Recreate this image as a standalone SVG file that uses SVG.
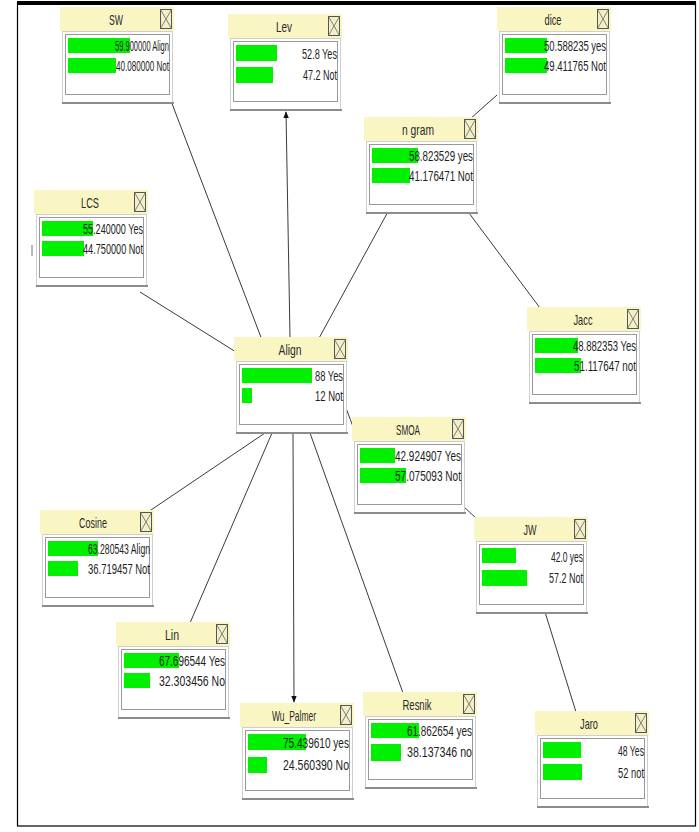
<svg xmlns="http://www.w3.org/2000/svg" xmlns:xlink="http://www.w3.org/1999/xlink" width="699" height="832" viewBox="0 0 699 832">
  <style>
    .hdr { fill: #faf6c4; }
    .xb { fill: #f3f0c8; stroke: #555; stroke-width: 1; }
    .xl { stroke: #666; stroke-width: 0.8; fill: none; }
    .panel { fill: #ffffff; stroke: #cfcfcf; stroke-width: 1; }
    .inner { fill: #ffffff; stroke: #999; stroke-width: 1; }
    .shadow { fill: #8c8c8c; }
    .bar { fill: #00f000; }
    .ttl { font-family: "Liberation Sans", Arial, sans-serif; font-size: 15px; fill: #2a2a2a; text-anchor: middle; }
    .val { font-family: "Liberation Sans", Arial, sans-serif; font-size: 14px; fill: #1e1e1e; text-anchor: end; }
    .edge { stroke: #3a3a3a; stroke-width: 1; fill: none; }
  </style>
  <defs>
    <!-- common node chrome: yellow title bar, close box, white panel -->
    <g id="chrome">
      <rect class="panel" x="2.5" y="24.5" width="110" height="71"/>
      <rect class="shadow" x="2" y="95" width="112" height="2"/>
      <rect class="inner" x="5.5" y="27.5" width="104" height="60"/>
      <rect class="hdr" x="0" y="0" width="114" height="24"/>
      <rect class="xb" x="100.5" y="2.5" width="11" height="19"/>
      <path class="xl" d="M100.5,2.5 L111.5,21.5 M111.5,2.5 L100.5,21.5"/>
    </g>
    <marker id="arrow" viewBox="0 0 10 10" refX="9" refY="5" markerWidth="7" markerHeight="7" orient="auto">
      <path d="M0,1 L10,5 L0,9 Z" fill="#111"/>
    </marker>
  </defs>

  <rect x="0" y="0" width="699" height="832" fill="#ffffff"/>
  <!-- outer frame -->
  <rect x="17.5" y="3" width="678" height="823" fill="none" stroke="#000" stroke-width="1.2"/>
  <rect x="17" y="1" width="679" height="4" fill="#000"/>

  <g id="connectors">
    <line class="edge" x1="262" y1="340" x2="160" y2="72"/>
    <line class="edge" x1="290" y1="337" x2="286" y2="112" marker-end="url(#arrow)"/>
    <line class="edge" x1="318" y1="340" x2="390" y2="208"/>
    <line class="edge" x1="236" y1="352" x2="140" y2="292"/>
    <line class="edge" x1="470" y1="119" x2="497" y2="95"/>
    <line class="edge" x1="463" y1="205" x2="540" y2="308"/>
    <line class="edge" x1="346" y1="408" x2="358" y2="440"/>
    <line class="edge" x1="462" y1="505" x2="478" y2="520"/>
    <line class="edge" x1="545" y1="612" x2="576" y2="712"/>
    <line class="edge" x1="265" y1="433" x2="148" y2="512"/>
    <line class="edge" x1="272" y1="433" x2="190" y2="623"/>
    <line class="edge" x1="293" y1="433" x2="294" y2="702" marker-end="url(#arrow)"/>
    <line class="edge" x1="310" y1="433" x2="403" y2="693"/>
  </g>

  <g id="node-sw" transform="translate(60,7)">
    <use xlink:href="#chrome"/>
    <text class="ttl" x="56" y="18" textLength="14" lengthAdjust="spacingAndGlyphs">SW</text>
    <rect class="bar" x="8" y="31" width="62" height="15"/>
    <rect class="bar" x="8" y="51" width="48" height="15"/>
    <text class="val" x="109" y="44" textLength="54" lengthAdjust="spacingAndGlyphs">59.900000 Align</text>
    <text class="val" x="109" y="64" textLength="53" lengthAdjust="spacingAndGlyphs">40.080000 Not</text>
  </g>

  <g id="node-lev" transform="translate(228,14)">
    <use xlink:href="#chrome"/>
    <text class="ttl" x="56" y="18" textLength="16" lengthAdjust="spacingAndGlyphs">Lev</text>
    <rect class="bar" x="8" y="31" width="41" height="16"/>
    <rect class="bar" x="8" y="53" width="37" height="16"/>
    <text class="val" x="109" y="45" textLength="35" lengthAdjust="spacingAndGlyphs">52.8 Yes</text>
    <text class="val" x="109" y="66" textLength="34" lengthAdjust="spacingAndGlyphs">47.2 Not</text>
  </g>

  <g id="node-dice" transform="translate(497,7)">
    <use xlink:href="#chrome"/>
    <text class="ttl" x="56" y="18" textLength="17" lengthAdjust="spacingAndGlyphs">dice</text>
    <rect class="bar" x="8" y="31" width="42" height="15"/>
    <rect class="bar" x="8" y="51" width="42" height="15"/>
    <text class="val" x="109" y="44" textLength="62" lengthAdjust="spacingAndGlyphs">50.588235 yes</text>
    <text class="val" x="109" y="64" textLength="62" lengthAdjust="spacingAndGlyphs">49.411765 Not</text>
  </g>

  <g id="node-ngram" transform="translate(364,117)">
    <use xlink:href="#chrome"/>
    <text class="ttl" x="54" y="18" textLength="32" lengthAdjust="spacingAndGlyphs">n gram</text>
    <rect class="bar" x="8" y="31" width="46" height="15"/>
    <rect class="bar" x="8" y="51" width="38" height="15"/>
    <text class="val" x="109" y="44" textLength="64" lengthAdjust="spacingAndGlyphs">58.823529 yes</text>
    <text class="val" x="109" y="64" textLength="64" lengthAdjust="spacingAndGlyphs">41.176471 Not</text>
  </g>

  <g id="node-lcs" transform="translate(34,190)">
    <use xlink:href="#chrome"/>
    <text class="ttl" x="56" y="18" textLength="18" lengthAdjust="spacingAndGlyphs">LCS</text>
    <rect class="bar" x="8" y="31" width="51" height="15"/>
    <rect class="bar" x="8" y="51" width="42" height="15"/>
    <text class="val" x="109" y="44" textLength="60" lengthAdjust="spacingAndGlyphs">55.240000 Yes</text>
    <text class="val" x="109" y="64" textLength="60" lengthAdjust="spacingAndGlyphs">44.750000 Not</text>
    <line x1="-2" y1="55" x2="-2" y2="66" stroke="#777" stroke-width="1"/>
  </g>

  <g id="node-jacc" transform="translate(527,307)">
    <use xlink:href="#chrome"/>
    <text class="ttl" x="56" y="18" textLength="19" lengthAdjust="spacingAndGlyphs">Jacc</text>
    <rect class="bar" x="8" y="31" width="43" height="15"/>
    <rect class="bar" x="8" y="51" width="46" height="15"/>
    <text class="val" x="109" y="44" textLength="63" lengthAdjust="spacingAndGlyphs">48.882353 Yes</text>
    <text class="val" x="109" y="64" textLength="62" lengthAdjust="spacingAndGlyphs">51.117647 not</text>
  </g>

  <g id="node-align" transform="translate(234,337)">
    <use xlink:href="#chrome"/>
    <text class="ttl" x="56" y="18" textLength="23" lengthAdjust="spacingAndGlyphs">Align</text>
    <rect class="bar" x="8" y="31" width="70" height="15"/>
    <rect class="bar" x="8" y="51" width="10" height="15"/>
    <text class="val" x="109" y="44" textLength="28" lengthAdjust="spacingAndGlyphs">88 Yes</text>
    <text class="val" x="109" y="64" textLength="28" lengthAdjust="spacingAndGlyphs">12 Not</text>
  </g>

  <g id="node-smoa" transform="translate(352,417)">
    <use xlink:href="#chrome"/>
    <text class="ttl" x="56" y="18" textLength="24" lengthAdjust="spacingAndGlyphs">SMOA</text>
    <rect class="bar" x="8" y="31" width="35" height="15"/>
    <rect class="bar" x="8" y="51" width="46" height="15"/>
    <text class="val" x="109" y="44" textLength="66" lengthAdjust="spacingAndGlyphs">42.924907 Yes</text>
    <text class="val" x="109" y="64" textLength="66" lengthAdjust="spacingAndGlyphs">57.075093 Not</text>
  </g>

  <g id="node-cosine" transform="translate(40,510)">
    <use xlink:href="#chrome"/>
    <text class="ttl" x="53" y="18" textLength="28" lengthAdjust="spacingAndGlyphs">Cosine</text>
    <rect class="bar" x="8" y="31" width="50" height="15"/>
    <rect class="bar" x="8" y="51" width="30" height="15"/>
    <text class="val" x="110" y="44" textLength="62" lengthAdjust="spacingAndGlyphs">63.280543 Align</text>
    <text class="val" x="110" y="64" textLength="62" lengthAdjust="spacingAndGlyphs">36.719457 Not</text>
  </g>

  <g id="node-jw" transform="translate(474,517)">
    <use xlink:href="#chrome"/>
    <text class="ttl" x="56" y="18" textLength="13" lengthAdjust="spacingAndGlyphs">JW</text>
    <rect class="bar" x="8" y="31" width="34" height="15"/>
    <rect class="bar" x="8" y="53" width="45" height="16"/>
    <text class="val" x="109" y="45" textLength="32" lengthAdjust="spacingAndGlyphs">42.0 yes</text>
    <text class="val" x="109" y="66" textLength="34" lengthAdjust="spacingAndGlyphs">57.2 Not</text>
  </g>

  <g id="node-lin" transform="translate(116,622)">
    <use xlink:href="#chrome"/>
    <text class="ttl" x="56" y="18" textLength="14" lengthAdjust="spacingAndGlyphs">Lin</text>
    <rect class="bar" x="8" y="31" width="55" height="15"/>
    <rect class="bar" x="8" y="51" width="26" height="15"/>
    <text class="val" x="109" y="44" textLength="66" lengthAdjust="spacingAndGlyphs">67.696544 Yes</text>
    <text class="val" x="109" y="64" textLength="66" lengthAdjust="spacingAndGlyphs">32.303456 No</text>
  </g>

  <g id="node-wupalmer" transform="translate(240,703)">
    <use xlink:href="#chrome"/>
    <text class="ttl" x="54" y="18" textLength="44" lengthAdjust="spacingAndGlyphs">Wu_Palmer</text>
    <rect class="bar" x="8" y="31" width="58" height="16"/>
    <rect class="bar" x="8" y="54" width="19" height="16"/>
    <text class="val" x="109" y="45" textLength="66" lengthAdjust="spacingAndGlyphs">75.439610 yes</text>
    <text class="val" x="109" y="67" textLength="66" lengthAdjust="spacingAndGlyphs">24.560390 No</text>
  </g>

  <g id="node-resnik" transform="translate(363,692)">
    <use xlink:href="#chrome"/>
    <text class="ttl" x="54" y="18" textLength="29" lengthAdjust="spacingAndGlyphs">Resnik</text>
    <rect class="bar" x="8" y="31" width="48" height="15"/>
    <rect class="bar" x="8" y="52" width="30" height="17"/>
    <text class="val" x="109" y="44" textLength="65" lengthAdjust="spacingAndGlyphs">61.862654 yes</text>
    <text class="val" x="109" y="65" textLength="65" lengthAdjust="spacingAndGlyphs">38.137346 no</text>
  </g>

  <g id="node-jaro" transform="translate(535,711)">
    <use xlink:href="#chrome"/>
    <text class="ttl" x="54" y="18" textLength="18" lengthAdjust="spacingAndGlyphs">Jaro</text>
    <rect class="bar" x="8" y="31" width="38" height="16"/>
    <rect class="bar" x="8" y="53" width="39" height="16"/>
    <text class="val" x="109" y="45" textLength="26" lengthAdjust="spacingAndGlyphs">48 Yes</text>
    <text class="val" x="109" y="67" textLength="26" lengthAdjust="spacingAndGlyphs">52 not</text>
  </g>
</svg>
